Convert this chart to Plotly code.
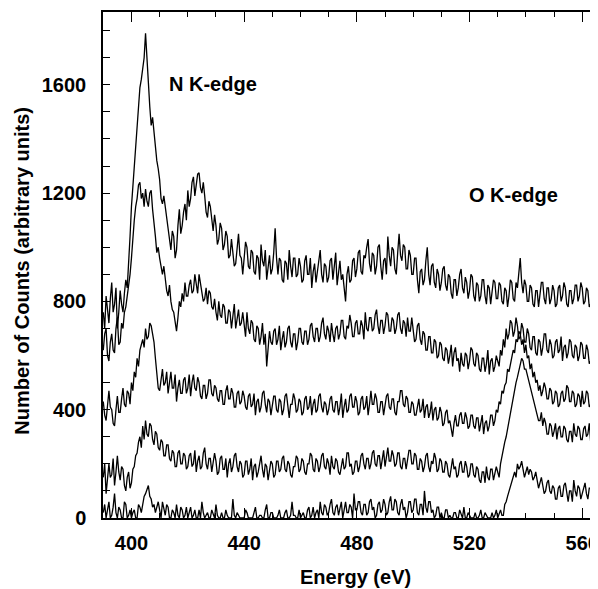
import plotly.graph_objects as go

# energy grid, 0.5 eV steps from 390 to 565 eV
energy = [390 + 0.5 * i for i in range(351)]

trace_a = [
    760, 700, 820, 780, 720, 810, 870, 760, 790, 850, 700, 760, 840, 790, 760, 830, 880, 850, 930, 1040,
    1150, 1230, 1300, 1380, 1470, 1530, 1590, 1620, 1660, 1700, 1790, 1680, 1610, 1520, 1450, 1480, 1420, 1360, 1320, 1290,
    1250, 1180, 1160, 1190, 1150, 1100, 1070, 1020, 990, 1060, 1040, 960, 990, 1080, 1140, 1050, 1080, 1130, 1160, 1100,
    1210, 1150, 1180, 1240, 1260, 1190, 1230, 1270, 1275, 1220, 1200, 1240, 1190, 1130, 1110, 1170, 1150, 1090, 1060, 1120,
    1080, 1010, 1030, 1090, 1070, 990, 1010, 1060, 1040, 960, 970, 1030, 990, 930, 940, 1010, 1050, 970, 960, 900,
    950, 1020, 1000, 930, 920, 990, 980, 910, 900, 970, 960, 880, 1010, 950, 930, 990, 880, 940, 970, 900,
    920, 980, 1070, 960, 900, 960, 950, 880, 870, 950, 940, 880, 990, 930, 890, 960, 960, 890, 900, 960,
    930, 870, 880, 950, 970, 900, 900, 960, 850, 910, 940, 870, 910, 960, 990, 900, 870, 940, 930, 870,
    890, 950, 960, 880, 920, 980, 860, 920, 950, 880, 900, 850, 800, 900, 930, 870, 880, 950, 960, 890,
    920, 980, 990, 910, 900, 970, 960, 1000, 1030, 940, 910, 980, 970, 900, 930, 1000, 1010, 930, 880, 950,
    960, 900, 1040, 970, 930, 1000, 990, 920, 900, 980, 1050, 970, 950, 1010, 1000, 920, 920, 990, 970, 900,
    900, 960, 960, 880, 830, 910, 920, 860, 880, 950, 1000, 900, 860, 930, 940, 870, 850, 920, 900, 840,
    870, 920, 930, 860, 840, 900, 890, 830, 810, 880, 880, 820, 850, 900, 920, 850, 830, 890, 870, 810,
    840, 900, 890, 820, 800, 870, 860, 800, 820, 880, 880, 820, 790, 860, 850, 790, 830, 880, 870, 810,
    810, 870, 860, 800, 790, 850, 840, 780, 820, 880, 870, 810, 800, 870, 850, 900, 960, 870, 830, 880,
    860, 800, 800, 860, 850, 790, 780, 840, 840, 780, 820, 870, 870, 810, 790, 850, 850, 790, 810, 860,
    840, 780, 790, 850, 860, 800, 820, 870, 850, 790, 780, 840, 840, 790, 810, 860, 860, 800, 820, 870,
    850, 790, 800, 850, 840, 780, 790, 760, 690, 790, 830,
]

trace_b = [
    620, 680, 700, 600, 580, 650, 680, 620, 610, 700, 740, 640, 650, 720, 700, 760, 780, 820, 850, 900,
    960, 1040, 1100, 1150, 1180, 1230, 1240, 1180, 1200, 1150, 1215, 1170, 1150, 1200, 1210, 1140, 1100, 1040, 980, 1000,
    960, 920, 900, 930, 870, 840, 820, 860, 800, 770, 760, 720, 690, 740, 800, 780, 830, 800, 870, 820,
    820, 860, 880, 830, 840, 900, 870, 830, 900, 860, 840, 800, 810, 850, 790, 840, 830, 780, 770, 810,
    760, 730, 800, 750, 740, 790, 780, 720, 720, 770, 760, 700, 745, 790, 700, 740, 770, 710, 720, 760,
    710, 670, 760, 700, 680, 730, 720, 660, 650, 710, 700, 640, 670, 720, 640, 680, 560, 640, 690, 650,
    640, 690, 700, 640, 660, 710, 620, 660, 690, 630, 650, 700, 710, 650, 630, 680, 680, 620, 650, 700,
    700, 650, 640, 690, 690, 640, 660, 710, 720, 670, 650, 700, 700, 650, 670, 720, 740, 680, 660, 710,
    690, 650, 720, 680, 650, 700, 710, 660, 680, 730, 730, 670, 660, 710, 700, 750, 720, 670, 670, 720,
    730, 680, 680, 730, 710, 660, 760, 700, 690, 740, 740, 690, 700, 750, 770, 710, 680, 730, 730, 680,
    710, 760, 750, 690, 690, 740, 730, 680, 700, 750, 760, 700, 680, 730, 720, 670, 740, 690, 690, 740,
    700, 650, 660, 710, 720, 660, 640, 690, 680, 620, 620, 670, 670, 610, 610, 660, 650, 590, 600, 650,
    640, 590, 580, 630, 620, 570, 600, 640, 560, 610, 630, 580, 590, 540, 610, 570, 560, 610, 600, 550,
    580, 630, 620, 570, 560, 610, 600, 550, 540, 590, 590, 540, 570, 620, 530, 580, 590, 540, 560, 600,
    580, 560, 620, 600, 660, 630, 700, 660, 680, 730, 720, 670, 690, 740, 710, 660, 670, 720, 700, 650,
    650, 700, 680, 630, 620, 670, 670, 610, 600, 660, 650, 600, 630, 680, 680, 620, 610, 660, 640, 590,
    600, 650, 660, 610, 620, 670, 580, 630, 640, 590, 610, 660, 650, 600, 590, 640, 630, 580, 600, 650,
    640, 590, 590, 640, 620, 570, 580, 630, 610, 560, 600,
]

trace_c = [
    430, 380, 360, 420, 470, 410, 400, 350, 340, 400, 450, 390, 390, 440, 480, 420, 410, 470, 460, 420,
    500, 470, 540, 520, 590, 560, 620, 640, 660, 630, 700, 660, 670, 720, 710, 680, 650, 590, 520, 480,
    470, 520, 550, 490, 500, 540, 460, 500, 540, 480, 480, 530, 430, 480, 510, 460, 460, 510, 520, 460,
    480, 530, 450, 500, 530, 480, 470, 520, 500, 450, 440, 490, 490, 440, 460, 510, 510, 460, 450, 490,
    480, 440, 430, 470, 470, 420, 420, 470, 490, 440, 440, 480, 460, 410, 410, 460, 470, 420, 430, 470,
    450, 410, 400, 450, 460, 410, 420, 460, 380, 430, 440, 390, 410, 460, 470, 420, 390, 440, 430, 380,
    410, 450, 450, 400, 390, 440, 430, 380, 400, 450, 460, 410, 370, 420, 420, 460, 440, 390, 400, 440,
    430, 380, 390, 440, 450, 400, 410, 450, 380, 420, 440, 390, 400, 450, 460, 410, 390, 430, 420, 380,
    400, 440, 450, 400, 390, 430, 430, 380, 410, 460, 370, 410, 440, 390, 400, 450, 460, 410, 410, 450,
    430, 380, 390, 440, 450, 400, 410, 450, 380, 420, 470, 420, 420, 460, 440, 390, 390, 430, 430, 380,
    410, 450, 460, 410, 400, 440, 440, 390, 380, 430, 430, 470, 470, 420, 410, 450, 440, 390, 390, 430,
    420, 380, 380, 420, 440, 390, 400, 440, 370, 410, 420, 370, 390, 430, 360, 400, 410, 360, 370, 410,
    390, 340, 350, 390, 400, 350, 360, 330, 300, 350, 380, 340, 340, 380, 390, 350, 350, 390, 370, 330,
    340, 380, 380, 340, 330, 370, 370, 320, 350, 380, 310, 350, 360, 320, 340, 380, 380, 340, 360, 400,
    390, 430, 420, 470, 460, 490, 500, 550, 540, 570, 590, 620, 610, 660, 650, 690, 680, 640, 660, 610,
    640, 590, 600, 550, 570, 520, 540, 500, 510, 470, 490, 450, 470, 500, 480, 440, 440, 480, 470, 420,
    430, 470, 460, 410, 420, 460, 470, 430, 440, 490, 480, 430, 430, 470, 460, 410, 420, 460, 450, 410,
    470, 420, 430, 470, 460, 410, 420, 460, 450, 400, 440,
]

trace_d = [
    150, 200, 90, 140, 200, 150, 160, 220, 120, 170, 230, 170, 140, 190, 180, 120, 100, 150, 170, 110,
    130, 180, 190, 230, 240, 280, 300, 260, 340, 290, 360, 310, 300, 350, 340, 290, 270, 320, 310, 260,
    250, 290, 280, 230, 230, 270, 270, 220, 210, 250, 240, 190, 190, 240, 250, 200, 200, 240, 230, 180,
    190, 230, 240, 190, 200, 250, 170, 210, 230, 180, 190, 240, 260, 200, 180, 220, 220, 170, 200, 240,
    210, 160, 170, 220, 230, 180, 180, 220, 150, 200, 220, 170, 190, 230, 240, 190, 170, 210, 200, 150,
    160, 210, 210, 160, 180, 220, 140, 190, 200, 150, 170, 210, 230, 180, 150, 200, 190, 140, 170, 210,
    200, 150, 160, 210, 210, 170, 180, 220, 230, 180, 170, 210, 200, 160, 150, 190, 190, 230, 220, 170,
    180, 220, 210, 170, 160, 200, 200, 240, 230, 180, 170, 220, 210, 170, 190, 230, 240, 190, 180, 220,
    200, 160, 230, 190, 180, 220, 210, 170, 160, 200, 220, 180, 190, 240, 240, 190, 200, 160, 170, 210,
    210, 170, 190, 230, 240, 200, 180, 220, 220, 180, 200, 240, 250, 200, 190, 230, 230, 180, 210, 250,
    190, 230, 260, 210, 210, 250, 230, 190, 200, 240, 240, 190, 180, 220, 220, 180, 210, 250, 250, 200,
    200, 240, 230, 180, 180, 220, 210, 170, 190, 230, 240, 190, 170, 210, 200, 240, 220, 170, 180, 220,
    210, 170, 170, 210, 200, 160, 150, 190, 220, 180, 190, 150, 160, 200, 210, 170, 170, 210, 190, 150,
    160, 200, 200, 160, 150, 190, 180, 140, 130, 170, 170, 130, 190, 150, 140, 180, 180, 140, 160, 190,
    170, 150, 200, 230, 250, 280, 300, 330, 360, 390, 420, 450, 470, 500, 520, 540, 560, 590, 580, 550,
    550, 530, 510, 480, 460, 440, 420, 400, 390, 360, 360, 390, 340, 370, 350, 310, 310, 350, 340, 300,
    320, 350, 290, 330, 340, 300, 300, 340, 330, 290, 280, 320, 320, 280, 350, 310, 300, 340, 330, 290,
    290, 330, 340, 300, 310, 350, 280, 320, 320, 280, 300,
]

trace_e = [
    20, 50, 0, 30, 60, 0, 10, 40, 90, 20, 0, 40, 30, 0, 0, 60, 50, 0, 10, 30,
    0, 20, 30, 0, 0, 50, 40, 20, 60, 80, 90, 110, 120, 80, 70, 40, 50, 20, 40, 60,
    30, 0, 60, 30, 10, 50, 40, 0, 0, 30, 20, 0, 50, 10, 0, 40, 30, 0, 10, 40,
    0, 20, 40, 0, 10, 30, 0, 0, 30, 0, 60, 20, 0, 10, 20, 0, 0, 30, 10, 0,
    50, 10, 0, 0, 20, 0, 0, 30, 10, 0, 0, 0, 70, 10, 0, 20, 10, 0, 0, 0,
    0, 30, 20, 0, 0, 0, 0, 20, 40, 0, 0, 10, 10, 0, 0, 30, 50, 0, 0, 20,
    20, 0, 0, 0, 10, 30, 0, 0, 0, 20, 30, 0, 0, 10, 60, 10, 10, 0, 0, 30,
    0, 10, 20, 0, 0, 30, 40, 0, 10, 40, 0, 20, 30, 0, 60, 20, 10, 50, 40, 10,
    20, 50, 70, 20, 10, 40, 50, 10, 30, 60, 0, 30, 60, 20, 20, 50, 40, 0, 90, 30,
    30, 60, 60, 20, 10, 50, 50, 10, 20, 60, 70, 30, 40, 0, 10, 50, 60, 20, 30, 70,
    50, 10, 20, 60, 80, 30, 30, 70, 60, 20, 10, 50, 70, 30, 40, 0, 20, 60, 60, 20,
    30, 70, 70, 20, 10, 50, 50, 10, 100, 40, 20, 60, 60, 20, 30, 0, 10, 40, 40, 0,
    20, 0, 0, 30, 30, 0, 10, 0, 0, 20, 20, 0, 0, 30, 10, 0, 40, 0, 0, 20,
    10, 0, 0, 0, 20, 0, 0, 10, 30, 0, 0, 20, 10, 0, 0, 0, 20, 0, 10, 30,
    0, 20, 30, 10, 10, 50, 60, 80, 100, 120, 140, 160, 170, 150, 200, 180, 190, 210, 180, 150,
    170, 190, 160, 180, 170, 140, 150, 170, 140, 110, 130, 150, 120, 90, 100, 130, 140, 100, 90, 120,
    110, 70, 70, 110, 120, 80, 80, 120, 130, 90, 60, 100, 100, 60, 140, 100, 80, 120, 110, 70,
    90, 120, 130, 90, 70, 110, 110, 70, 80, 120, 100,
]

for _t in (trace_a, trace_b, trace_c, trace_d, trace_e):
    assert len(_t) == len(energy), len(_t)

x_tick_vals = [400, 440, 480, 520, 560]
y_tick_vals = [0, 400, 800, 1200, 1600]
edge_labels = ["N K-edge", "O K-edge"]
edge_pos_x = [429, 535.5]
edge_pos_y = [1604, 1194]

FONT = "Liberation Sans, Arial, sans-serif"

# page body has an 8px margin: figure is sized so that it fits the 598x589 window
W, H = 590, 581
L, T, B = 94.5, 4.3, 70.7
PW, PH = W - L, H - T - B


def px(xw):
    return (xw - 8 - L) / PW


def py(yw):
    return (H - B - (yw - 8)) / PH


fig = go.Figure()
for ys in [trace_a, trace_b, trace_c, trace_d, trace_e]:
    fig.add_trace(go.Scatter(x=energy, y=ys, mode="lines",
                             line=dict(color="black", width=1.3),
                             showlegend=False, hoverinfo="skip"))

fig.update_layout(
    width=W, height=H,
    margin=dict(l=L, r=0, t=T, b=B, pad=0),
    plot_bgcolor="white", paper_bgcolor="white",
    font=dict(family=FONT, size=20, color="black"),
    showlegend=False,
)

fig.update_xaxes(
    range=[389.9, 565.6],
    tickvals=x_tick_vals,
    ticks="inside", ticklen=10, tickwidth=1, tickcolor="black",
    minor=dict(dtick=10, tick0=390, ticks="inside", ticklen=5, tickwidth=1, tickcolor="black"),
    showline=True, linecolor="black", linewidth=1.5,
    mirror="ticks",
    showgrid=False, zeroline=False,
    tickfont=dict(family=FONT, size=20, color="black", weight="bold"),
    ticklabelstandoff=6,
    ticklabeloverflow="allow",
)
fig.update_yaxes(
    range=[0, 1869],
    tickvals=y_tick_vals,
    ticks="inside", ticklen=7, tickwidth=1, tickcolor="black",
    minor=dict(dtick=100, tick0=0, ticks="inside", ticklen=7, tickwidth=1, tickcolor="black"),
    showline=True, linecolor="black", linewidth=1.5,
    mirror=False,
    showgrid=False, zeroline=False,
    tickfont=dict(family=FONT, size=20, color="black", weight="bold"),
    ticklabelstandoff=11,
)

for txt, xx, yy in zip(edge_labels, edge_pos_x, edge_pos_y):
    fig.add_annotation(x=xx, y=yy, text=txt, showarrow=False, xref="x", yref="y",
                       xanchor="center", yanchor="middle",
                       font=dict(family=FONT, size=20, color="black", weight="bold"))

fig.add_annotation(text="Energy (eV)", xref="paper", yref="paper",
                   x=px(413), y=py(577), showarrow=False,
                   xanchor="right", yanchor="middle",
                   font=dict(family=FONT, size=20, color="black", weight="bold"))
fig.add_annotation(text="Number of Counts (arbitrary units)", xref="paper", yref="paper",
                   x=px(21.5), y=py(271), showarrow=False,
                   textangle=-90, xanchor="center", yanchor="middle",
                   font=dict(family=FONT, size=20, color="black", weight="bold"))

fig.write_html("out.html")
